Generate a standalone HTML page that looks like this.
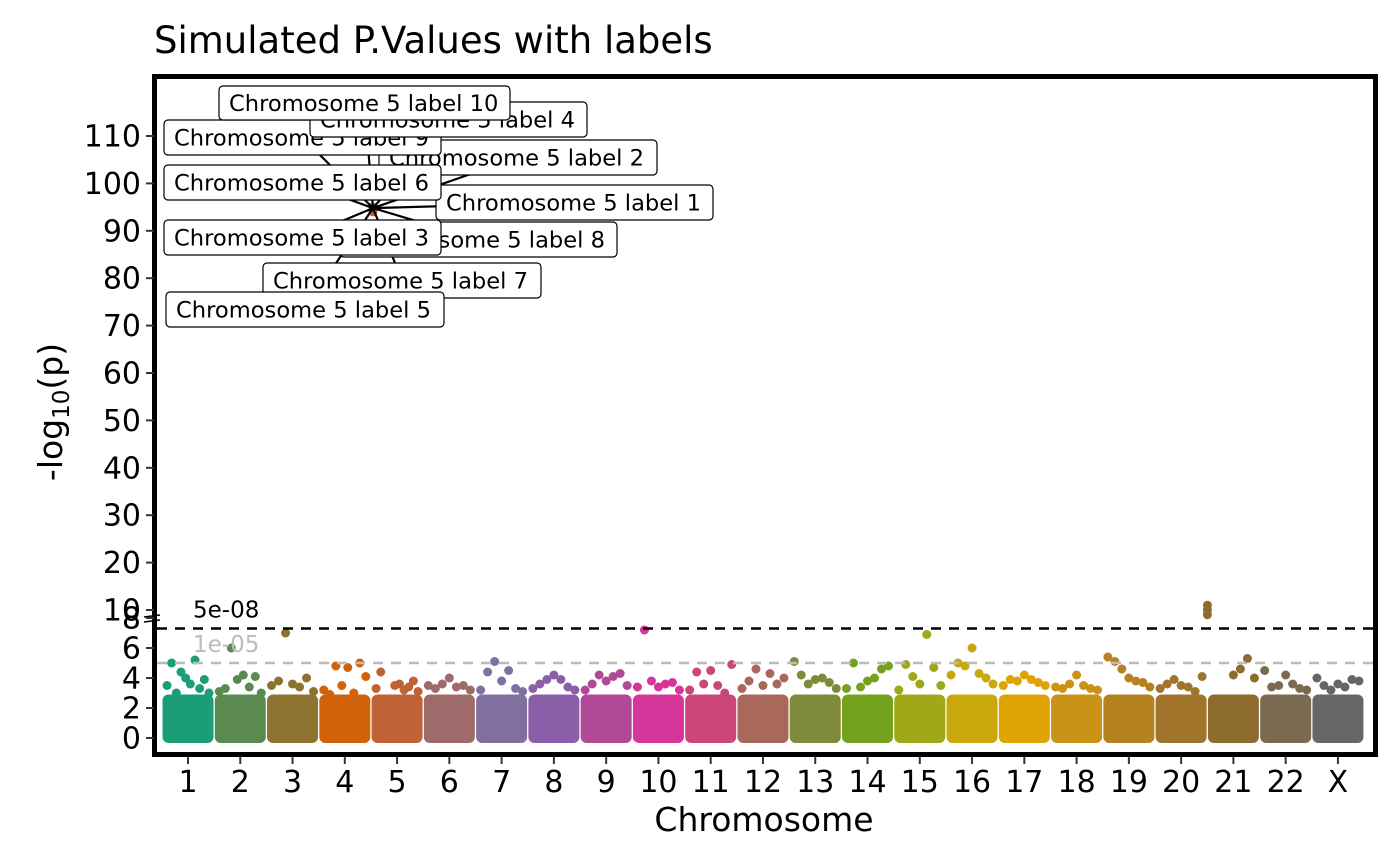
<!DOCTYPE html>
<html><head><meta charset="utf-8">
<style>
html,body{margin:0;padding:0;background:#fff;}
svg{display:block;font-family:"DejaVu Sans","Liberation Sans",sans-serif;}
</style></head>
<body>
<svg id="chart" width="1400" height="866" viewBox="0 0 1400 866" xmlns="http://www.w3.org/2000/svg">
<text x="154" y="53" font-size="37" fill="#000">Simulated P.Values with labels</text>
<g id="bulk"></g>
<g id="pts"></g>
<g id="thr"></g>
<g id="lines"></g>
<g id="labels"></g>
<rect x="154.5" y="76.5" width="1221" height="678" fill="none" stroke="#000" stroke-width="5"/>
<g id="yaxis"></g>
<g id="xaxis"></g>
<text transform="translate(62,412) rotate(-90)" text-anchor="middle" font-size="33">-log<tspan font-size="23" dy="7">10</tspan><tspan dy="-7">(p)</tspan></text>
<text x="764" y="831" text-anchor="middle" font-size="33">Chromosome</text>
</svg>
<script>
const chroms=["1","2","3","4","5","6","7","8","9","10","11","12","13","14","15","16","17","18","19","20","21","22","X"];
const colors=["#1b9e77","#5a8a50","#8e7330","#d2620a","#bf6236","#9f6b6a","#7f70a0","#8b5fa8","#b04a98","#d6369a","#cc4578","#a8695a","#7f8a3a","#74a21e","#a0a81a","#c8a80a","#dfa404","#ca9318","#b58220","#a0742a","#8e6c30","#7a6a50","#666666"];
const bulkTop=[2.9,2.9,2.9,2.9,2.9,2.9,2.9,2.9,2.9,2.9,2.9,2.9,2.9,2.9,2.9,2.9,2.9,2.9,2.9,2.9,2.9,2.9,2.9];
const topPoints=[
[3.5,5.0,3.0,4.4,4.0,3.6,5.2,3.3,3.9,3.0],
[3.1,3.3,6.0,3.9,4.2,3.4,4.1,3.0],
[3.5,3.8,7.0,3.6,3.4,4.0,3.1],
[3.2,2.9,4.8,3.5,4.7,3.0,5.0,4.1],
[3.3,4.4,95,94,3.5,3.6,3.2,3.4,3.8,3.1],
[3.5,3.3,3.6,4.0,3.4,3.5,3.2],
[3.2,4.4,5.1,3.8,4.5,3.3,3.1],
[3.3,3.6,3.9,4.2,3.9,3.4,3.2],
[3.2,3.6,4.2,3.8,4.1,4.3,3.5],
[3.4,7.2,3.8,3.4,3.6,3.7,3.2],
[3.2,4.4,3.6,4.5,3.5,3.0,4.9],
[3.3,3.8,4.6,3.5,4.3,3.6,4.0],
[5.1,4.2,3.6,3.9,4.0,3.7,3.3],
[3.3,5.0,3.4,3.8,4.0,4.6,4.8],
[3.2,4.9,4.1,3.6,6.9,4.7,3.5],
[4.2,5.0,4.8,6.0,4.3,4.0,3.6],
[3.5,3.9,3.8,4.2,3.9,3.7,3.5],
[3.4,3.3,3.6,4.2,3.5,3.3,3.2],
[5.4,5.1,4.6,4.0,3.8,3.7,3.4],
[3.3,3.6,3.9,3.5,3.4,3.1,4.1],
[11,10,9,4.2,4.6,5.3,4.0],
[4.5,3.4,3.5,4.2,3.6,3.3,3.2],
[4.0,3.5,3.2,3.6,3.4,3.9,3.8]
];
const lowerTicks=[0,2,4,6,8];
const upperTicks=[10,20,30,40,50,60,70,80,90,100,110];
const thresholds=[{v:7.3,label:"5e-08",color:"#000"},{v:5,label:"1e-05",color:"#bbbbbb"}];
const labelNames=["Chromosome 5 label 2","Chromosome 5 label 9","Chromosome 5 label 4","Chromosome 5 label 10","Chromosome 5 label 1","Chromosome 5 label 6","Chromosome 5 label 8","Chromosome 5 label 3","Chromosome 5 label 7","Chromosome 5 label 5"];
const labelBoxes=[[379,140,657,175],[164,120,441,155],[310,102,587,137],[219,86,510,120],[436,185,713,220],[164,165,441,200],[340,222,617,257],[164,220,441,255],[263,263,541,298],[166,292,444,327]];

const NS="http://www.w3.org/2000/svg";
function mk(t,a,p){const e=document.createElementNS(NS,t);for(const k in a)e.setAttribute(k,a[k]);p.appendChild(e);return e;}
function yS(v){return v<=8.5? 738-v*15 : 610-(v-10)*4.74;}
function xC(i){return 188+i*52.27;}
const bulk=document.getElementById('bulk'),pts=document.getElementById('pts');
chroms.forEach((c,i)=>{
  const cx=xC(i);
  const r=mk('rect',{x:cx-25.5,y:yS(bulkTop[i]),width:51,height:yS(0)-yS(bulkTop[i])+5,rx:6,fill:colors[i]},bulk);
  
  
  const arr=topPoints[i];
  arr.forEach((v,j)=>{
    let px=cx-21+42*j/(arr.length-1);
    if(v>8.5 && i===4) px=373;
    if(v>8.5 && i===20) px=cx-26;
    const ci=mk('circle',{cx:px,cy:yS(v),r:4.5,fill:colors[i]},pts);
    
    
  });
});
const thr=document.getElementById('thr');
thresholds.forEach(t=>{
  const l=mk('line',{x1:157,x2:1373,y1:yS(t.v),y2:yS(t.v),stroke:t.color,'stroke-width':2.5,'stroke-dasharray':'10,8'},thr);
  
  
  const tx=mk('text',{x:193,y:yS(t.v)-11,'font-size':23,fill:t.color},thr);
  tx.textContent=t.label;
  
  
});
const lines=document.getElementById('lines'),labs=document.getElementById('labels');
const px5=373,py5=yS(95)+1;
labelBoxes.forEach((b,k)=>{
  const ln=mk('line',{x1:px5,y1:py5,x2:(b[0]+b[2])/2,y2:(b[1]+b[3])/2,stroke:'#000','stroke-width':2.2},lines);
  
  
});
labelBoxes.forEach((b,k)=>{
  const g=mk('g',{},labs);
  
  
  mk('rect',{x:b[0],y:b[1],width:b[2]-b[0],height:b[3]-b[1],rx:4,fill:'#fff',stroke:'#000','stroke-width':1.2},g);
  const t=mk('text',{x:b[0]+10,y:(b[1]+b[3])/2+8,'font-size':22.6},g);
  t.textContent=labelNames[k];
});
const ya=document.getElementById('yaxis');
function ytick(v,y){
  mk('line',{x1:146,x2:154,y1:y,y2:y,stroke:'#333','stroke-width':2},ya);
  const t=mk('text',{x:141,y:y+10.5,'font-size':30,'text-anchor':'end'},ya);
  t.textContent=v;
  
  
}
lowerTicks.forEach(v=>ytick(v,yS(v)));
upperTicks.forEach(v=>ytick(v,yS(v)));
mk('line',{x1:144,x2:160,y1:617,y2:615,stroke:'#000','stroke-width':1.5},ya);
mk('line',{x1:144,x2:160,y1:622,y2:620,stroke:'#000','stroke-width':1.5},ya);
const xa=document.getElementById('xaxis');
chroms.forEach((c,i)=>{
  mk('line',{x1:xC(i),x2:xC(i),y1:757,y2:764,stroke:'#333','stroke-width':2},xa);
  const t=mk('text',{x:xC(i),y:792,'font-size':30,'text-anchor':'middle'},xa);
  t.textContent=c;
  
  
});
</script>
</body></html>
